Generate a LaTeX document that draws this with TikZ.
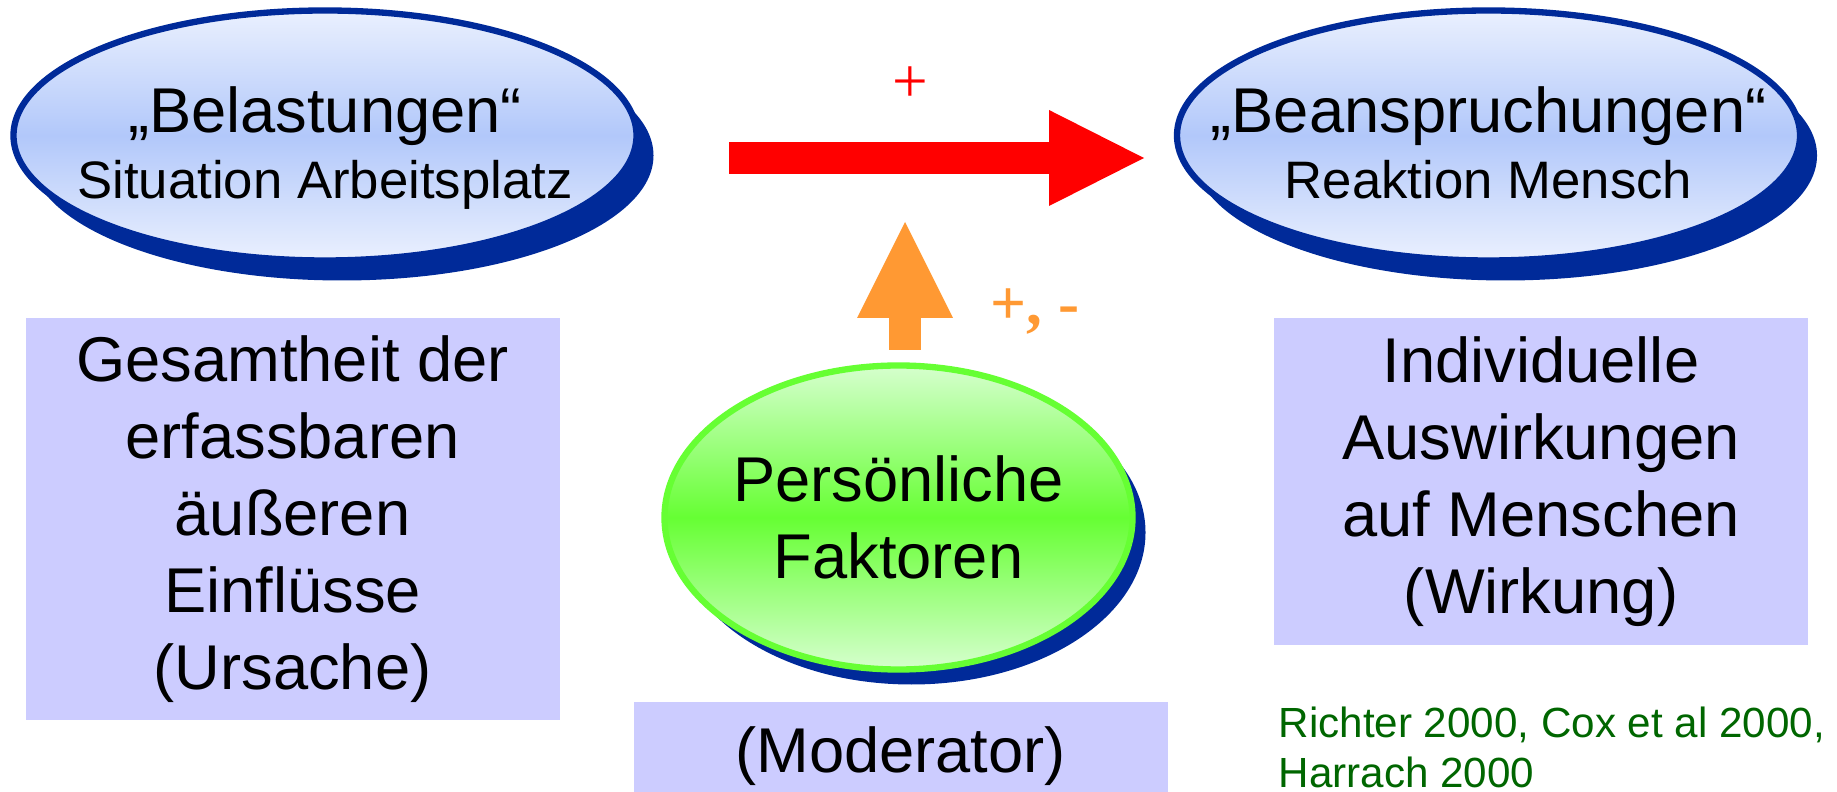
\documentclass[tikz,border=0pt]{standalone}
\usepackage{fontspec}
\setmainfont{Liberation Sans}
\newfontfamily\signfont{Liberation Serif}
\usetikzlibrary{arrows.meta, shapes.geometric, shadows, calc}
\definecolor{navy}{HTML}{002A99}
\definecolor{paleblue}{HTML}{EAF0FE}
\definecolor{midblue}{HTML}{B2C8FA}
\definecolor{limeline}{HTML}{66FF33}
\definecolor{palegreen}{HTML}{D6FFCE}
\definecolor{lilac}{HTML}{CCCCFF}
\definecolor{refgreen}{HTML}{006600}
\definecolor{orange2}{HTML}{FF9933}
\tikzset{
  oval/.style={ellipse, line width=1.8pt, draw=navy, top color=paleblue, bottom color=paleblue,
    middle color=midblue, inner sep=0pt},
  ovalGreen/.style={oval, draw=limeline, top color=palegreen, bottom color=palegreen, middle color=limeline},
  navyshadow/.style 2 args={drop shadow={shadow xshift=#1, shadow yshift=#2, fill=navy, opacity=1}},
  ovaltext/.style={align=center, inner sep=0pt, font=\fontsize{15}{18.8}\selectfont},
  infobox/.style={rectangle, fill=lilac, align=center, inner sep=0pt, minimum width=5.34cm,
    font=\fontsize{18}{21.9}\selectfont},
  bigarrow/.style={line width=3.2mm, -{Triangle[length=9.5mm, width=9.6mm, line width=0pt]}},
  sign/.style={font=\signfont\fontsize{18}{18}\selectfont, inner sep=0pt},
}
\begin{document}
\begin{tikzpicture}
\useasboundingbox (0,0) rectangle (18.37,-7.92);
% the three ovals
\node[oval, navyshadow={1.7mm}{-2mm}, minimum width=6.23cm, minimum height=2.5cm] (bel) at (3.25,-1.355) {};
\node[oval, navyshadow={1.7mm}{-2mm}, minimum width=6.23cm, minimum height=2.5cm] (bea) at (14.885,-1.355) {};
\node[ovalGreen, navyshadow={1.3mm}{-1.5mm}, minimum width=4.68cm, minimum height=3.04cm] (pers) at (8.985,-5.175) {};
\node[ovaltext] (belT) at ($(bel)+(0,-0.125)$) {{\fontsize{18}{18.8}\selectfont „Belastungen“}\\Situation Arbeitsplatz};
\node[ovaltext] (beaT) at ($(bea)+(0,-0.07)$) {{\fontsize{18}{18.8}\selectfont „Beanspruchungen“}\\Reaktion Mensch};
\node[ovaltext, font=\fontsize{18}{21.9}\selectfont] (persT) at (pers) {Persönliche\\Faktoren};
% boxes
\node[infobox, minimum height=4.02cm] (cause) at (2.925,-5.19) {Gesamtheit der\\erfassbaren\\äußeren\\Einflüsse\\(Ursache)};
\node[infobox, minimum height=3.27cm] (effect) at (15.41,-4.815) {Individuelle\\Auswirkungen\\auf Menschen\\(Wirkung)};
\node[infobox, minimum height=1.08cm] (moderator) at (9.005,-7.56) {(Moderator)};
\node[anchor=north west, align=left, inner sep=0pt, text=refgreen, font=\fontsize{12}{14.2}\selectfont] (refs) at (12.78,-7.06) {Richter 2000, Cox et al 2000,\\Harrach 2000};
% arrows
\coordinate (redtail) at (7.29,-1.58);
\coordinate (redtip) at (11.44,-1.58);
\draw[bigarrow, red] (redtail) -- (redtip);
\coordinate (orangetail) at (9.05,-3.5);
\coordinate (orangetip) at (9.05,-2.22);
\draw[bigarrow, orange2, -{Triangle[length=9.6mm, width=9.6mm, line width=0pt]}] (orangetail) -- (orangetip);
\node[sign, text=red] (plus) at (9.1,-0.85) {+};
\node[sign, text=orange2, anchor=base west, font=\signfont\bfseries\fontsize{18}{18}\selectfont] (plusminus) at (9.9,-3.25) {+, -};
\end{tikzpicture}
\end{document}
